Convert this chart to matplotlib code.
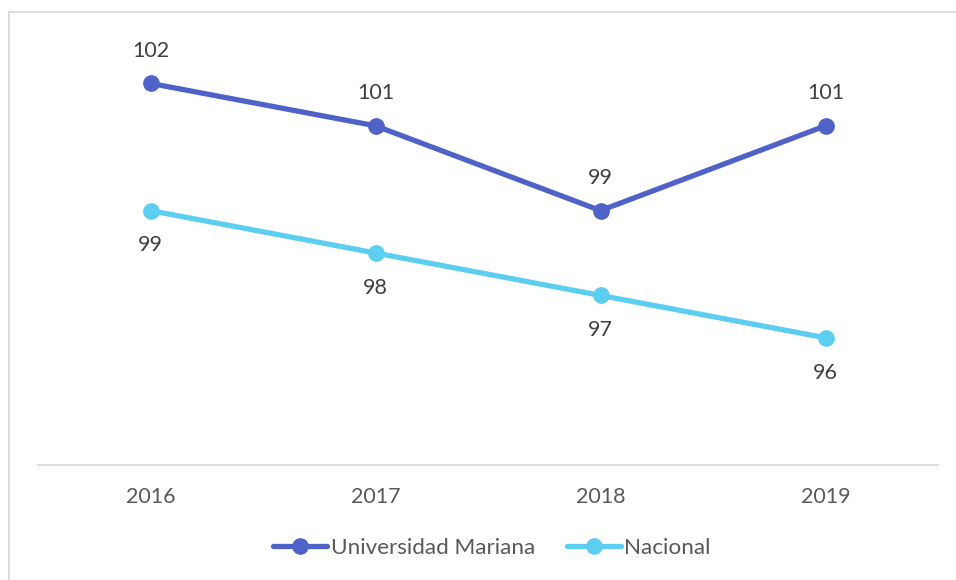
import matplotlib
matplotlib.use('Agg')
import matplotlib.pyplot as plt
from matplotlib.patches import Rectangle

plt.rcParams['font.family'] = ['Lato', 'DejaVu Sans']

years = ['2016', '2017', '2018', '2019']
mariana = [102, 101, 99, 101]
nacional = [99, 98, 97, 96]

c_mariana = '#4E62C7'
c_nacional = '#5CCEF2'

W, H = 956, 580
fig = plt.figure(figsize=(W / 100, H / 100), dpi=100)

# chart area border (cut at right/bottom like the screenshot)
fig.add_artist(Rectangle((8.5 / W, -0.05), 1.1, 1 - 11.5 / H + 0.05,
                         transform=fig.transFigure, fill=False,
                         edgecolor='#D9D9D9', lw=1.3))

ax = fig.add_axes([38 / W, 115 / H, 900 / W, (465 - 41) / H])
x = range(len(years))
ax.plot(x, mariana, color=c_mariana, lw=3.8, marker='o', ms=11,
        label='Universidad Mariana', solid_capstyle='round')
ax.plot(x, nacional, color=c_nacional, lw=3.8, marker='o', ms=11,
        label='Nacional', solid_capstyle='round')

for i, v in enumerate(mariana):
    ax.annotate(str(v), (i, v), xytext=(0, 23.5), textcoords='offset points',
                ha='center', va='center', fontsize=15.5, color='#404040')
for i, v in enumerate(nacional):
    ax.annotate(str(v), (i, v), xytext=(0, -25), textcoords='offset points',
                ha='center', va='center', fontsize=15.5, color='#404040')

ax.set_xlim(-0.5, 3.5)
ax.set_ylim(93, 103)
ax.set_xticks(list(x))
ax.set_xticklabels(years, fontsize=15.5, color='#595959')
ax.tick_params(axis='x', length=0, pad=16)
ax.set_yticks([])
for s in ['top', 'left', 'right']:
    ax.spines[s].set_visible(False)
ax.spines['bottom'].set_color('#D9D9D9')
ax.spines['bottom'].set_linewidth(1.3)

leg = fig.legend(loc='center', bbox_to_anchor=(492 / W, 1 - 548 / H), ncol=2,
                 frameon=False, fontsize=16.2, handlelength=2.4,
                 handletextpad=0.15, columnspacing=1.4)
for t in leg.get_texts():
    t.set_color('#595959')

fig.savefig('out.png', dpi=100)
